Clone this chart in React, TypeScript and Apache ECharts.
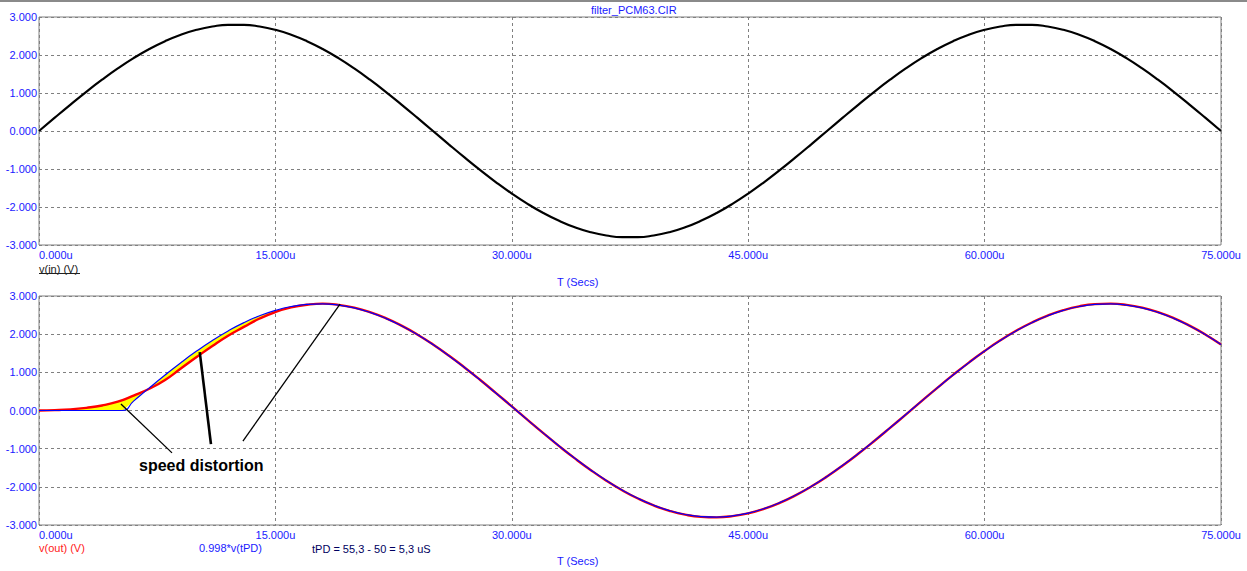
import React, { useEffect, useRef } from "react";
import * as echarts from "echarts";

// time grid, microseconds
const timeUs = [
  0, 1, 2, 3, 4, 5, 6, 7, 8, 9, 10, 11, 12, 13, 14, 15, 16, 17, 18, 19, 20, 21, 22, 23, 24, 25,
  26, 27, 28, 29, 30, 31, 32, 33, 34, 35, 36, 37, 38, 39, 40, 41, 42, 43, 44, 45, 46, 47, 48, 49, 50,
  51, 52, 53, 54, 55, 56, 57, 58, 59, 60, 61, 62, 63, 64, 65, 66, 67, 68, 69, 70, 71, 72, 73, 74, 75,
];

// v(in) (V)
const vIn = [
  0, 0.351, 0.696, 1.031, 1.349, 1.646, 1.917, 2.157, 2.364, 2.534, 2.663, 2.75, 2.794, 2.794, 2.75,
  2.663, 2.534, 2.364, 2.157, 1.917, 1.646, 1.349, 1.031, 0.696, 0.351, 0,
  -0.351, -0.696, -1.031, -1.349, -1.646, -1.917, -2.157, -2.364, -2.534, -2.663, -2.75, -2.794,
  -2.794, -2.75, -2.663, -2.534, -2.364, -2.157, -1.917, -1.646, -1.349, -1.031, -0.696, -0.351, 0,
  0.351, 0.696, 1.031, 1.349, 1.646, 1.917, 2.157, 2.364, 2.534, 2.663, 2.75, 2.794, 2.794, 2.75,
  2.663, 2.534, 2.364, 2.157, 1.917, 1.646, 1.349, 1.031, 0.696, 0.351, 0,
];

// v(out) (V)
const vOut = [
  0, 0.01, 0.03, 0.07, 0.13, 0.23, 0.39, 0.57, 0.8, 1.1, 1.4, 1.69, 1.96, 2.19, 2.41, 2.58, 2.7,
  2.77, 2.8, 2.768, 2.694, 2.577, 2.419, 2.223, 1.993, 1.73, 1.44, 1.128, 0.798, 0.455, 0.106,
  -0.246, -0.594, -0.932, -1.255, -1.559, -1.839, -2.089, -2.306, -2.487, -2.628, -2.729, -2.786,
  -2.799, -2.768, -2.694, -2.577, -2.419, -2.223, -1.993, -1.73, -1.44, -1.128, -0.798, -0.455,
  -0.106, 0.246, 0.594, 0.932, 1.255, 1.559, 1.839, 2.089, 2.306, 2.487, 2.628, 2.729, 2.786, 2.799,
  2.768, 2.694, 2.577, 2.419, 2.223, 1.993, 1.73,
];

// 0.998*v(tPD)
const tpdTimes = [0, 5.3, ...timeUs.slice(6)];
const vTpd = [
  0, 0, 0.245, 0.593, 0.93, 1.253, 1.556, 1.835, 2.085, 2.302, 2.482, 2.623, 2.724, 2.78, 2.793,
  2.762, 2.689, 2.572, 2.414, 2.219, 1.989, 1.727, 1.437, 1.126, 0.796, 0.454, 0.106,
  -0.246, -0.593, -0.93, -1.253, -1.556, -1.835, -2.085, -2.301, -2.482, -2.623, -2.724, -2.78,
  -2.793, -2.762, -2.689, -2.572, -2.414, -2.219, -1.989, -1.727, -1.437, -1.126, -0.796, -0.454,
  -0.106, 0.246, 0.593, 0.93, 1.253, 1.556, 1.835, 2.085, 2.301, 2.482, 2.623, 2.724, 2.78, 2.793,
  2.762, 2.689, 2.572, 2.414, 2.219, 1.989, 1.727,
];

// distortion area ends at this time (us)
const distortionEndUs = 18;

// annotation pointer lines [t, v] -> [t, v]
const pointers = [
  { from: [5.2, 0.17], to: [8.44, -1.11], width: 1.3 },
  { from: [10.2, 1.53], to: [10.91, -0.88], width: 2.6 },
  { from: [19.1, 2.79], to: [12.94, -0.8], width: 1.3 },
];

const yTicks = { min: -3, max: 3, interval: 1 };
const xTicks = { min: 0, max: 75, interval: 15 };

const LABEL_BLUE = "#1a1aff";
const FONT = "Arial, 'Liberation Sans', sans-serif";

export default function App() {
  const ref = useRef<HTMLDivElement>(null);

  useEffect(() => {
    if (!ref.current) return;
    const chart = echarts.init(ref.current, null, { renderer: "svg" });

    const pair = (xs: number[], ys: number[]) => xs.map((x, i) => [x, ys[i]]);
    const redPts = pair(timeUs, vOut).filter((p) => p[0] <= distortionEndUs);
    const bluePts = pair(tpdTimes, vTpd).filter((p) => p[0] <= distortionEndUs);

    const xAxisBase = (gridIndex: number) => ({
      type: "value",
      gridIndex,
      min: xTicks.min,
      max: xTicks.max,
      interval: xTicks.interval,
      axisLine: { show: false },
      axisTick: { show: false },
      axisLabel: {
        color: LABEL_BLUE,
        fontSize: 11,
        fontFamily: FONT,
        margin: 4,
        alignMinLabel: "left",
        formatter: (v: number) => v.toFixed(3) + "u",
      },
      splitLine: { show: true, lineStyle: { color: "#808080", type: [3, 3], width: 1 } },
    });
    const yAxisBase = (gridIndex: number) => ({
      type: "value",
      gridIndex,
      min: yTicks.min,
      max: yTicks.max,
      interval: yTicks.interval,
      axisLine: { show: false },
      axisTick: { show: false },
      axisLabel: {
        color: LABEL_BLUE,
        fontSize: 11,
        fontFamily: FONT,
        margin: 2,
        formatter: (v: number) => v.toFixed(3),
      },
      splitLine: { show: true, lineStyle: { color: "#808080", type: [3, 3], width: 1 } },
    });

    const txt = (left: number, top: number, text: string, fill: string, extra: any = {}) => ({
      type: "text",
      left,
      top,
      style: { text, fill, font: `11px ${FONT}`, ...extra },
    });

    chart.setOption({
      animation: false,
      backgroundColor: "#ffffff",
      grid: [
        { left: 39, top: 17, width: 1182, height: 228, show: true, borderColor: "#808080", borderWidth: 1, backgroundColor: "transparent" },
        { left: 39, top: 296, width: 1182, height: 229, show: true, borderColor: "#808080", borderWidth: 1, backgroundColor: "transparent" },
      ],
      xAxis: [xAxisBase(0), xAxisBase(1)],
      yAxis: [yAxisBase(0), yAxisBase(1)],
      series: [
        {
          type: "line",
          xAxisIndex: 0,
          yAxisIndex: 0,
          data: pair(timeUs, vIn),
          smooth: true,
          showSymbol: false,
          lineStyle: { color: "#000000", width: 2.2 },
          z: 3,
        },
        {
          type: "custom",
          xAxisIndex: 1,
          yAxisIndex: 1,
          data: [[0, 0]],
          z: 2,
          renderItem: (params: any, api: any) => {
            const pts = [
              ...redPts.map((p) => api.coord(p)),
              ...bluePts.slice().reverse().map((p) => api.coord(p)),
            ];
            return { type: "polygon", shape: { points: pts }, style: { fill: "#ffff00", stroke: "none" } };
          },
        },
        {
          type: "line",
          xAxisIndex: 1,
          yAxisIndex: 1,
          data: pair(timeUs, vOut),
          smooth: true,
          showSymbol: false,
          lineStyle: { color: "#ff0000", width: 2.4 },
          z: 3,
        },
        {
          type: "line",
          xAxisIndex: 1,
          yAxisIndex: 1,
          data: pair(tpdTimes, vTpd),
          smooth: true,
          showSymbol: false,
          lineStyle: { color: "#0000ff", width: 1.2 },
          z: 4,
          markLine: {
            silent: true,
            symbol: ["none", "none"],
            label: { show: false },
            data: pointers.map((p) => [
              { coord: p.from, lineStyle: { color: "#000", width: p.width, type: "solid" } },
              { coord: p.to },
            ]),
          },
        },
      ],
      graphic: [
        { type: "rect", left: 0, top: 0, shape: { width: 1247, height: 2 }, style: { fill: "#8a8a8a" } },
        txt(591, 4, "filter_PCM63.CIR", LABEL_BLUE),
        txt(39, 263, "v(in) (V)", "#202020"),
        { type: "rect", left: 39, top: 273, shape: { width: 41, height: 1 }, style: { fill: "#202020" } },
        txt(557, 276, "T (Secs)", LABEL_BLUE),
        txt(39, 542, "v(out) (V)", "#ff2020"),
        txt(199, 542, "0.998*v(tPD)", LABEL_BLUE),
        txt(312, 543, "tPD = 55,3 - 50 = 5,3 uS", "#000060"),
        txt(557, 555, "T (Secs)", LABEL_BLUE),
        {
          type: "text",
          left: 139,
          top: 457,
          style: { text: "speed distortion", fill: "#000000", font: `bold 16px ${FONT}` },
        },
      ],
    });

    return () => chart.dispose();
  }, []);

  return <div ref={ref} style={{ position: "absolute", left: 0, top: 0, width: 1247, height: 571 }} />;
}
